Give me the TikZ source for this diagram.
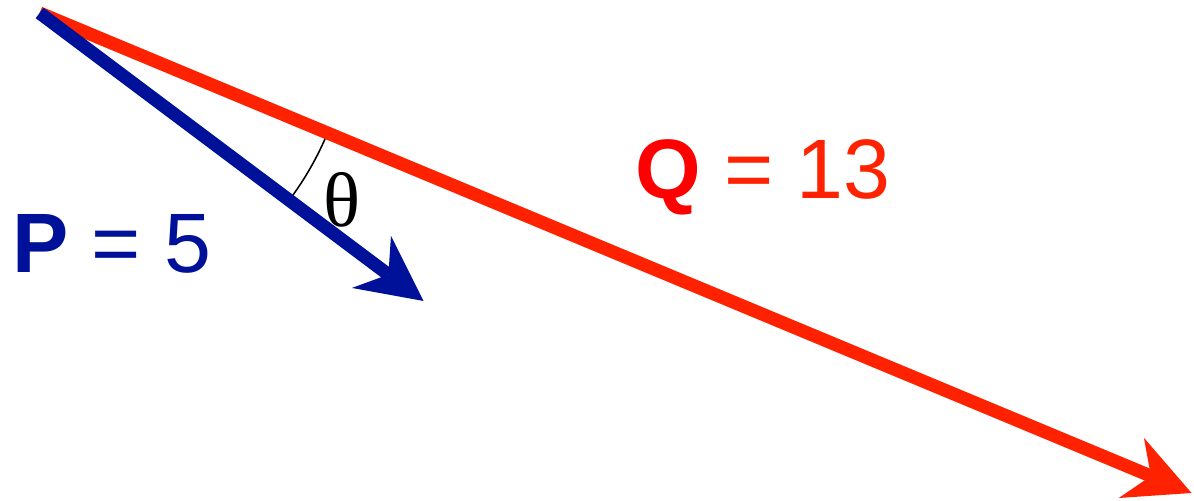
\documentclass[tikz,border=0pt]{standalone}
\usepackage{fontspec}
\setmainfont{Liberation Sans}
\newfontfamily\greekserif{Liberation Serif}
\usetikzlibrary{arrows.meta,calc}
\definecolor{royal}{RGB}{0,17,153}
\definecolor{scarlet}{RGB}{255,34,0}
\definecolor{pure}{RGB}{255,0,0}
\tikzset{
  >={Stealth[length=1.63cm,width=1.63cm,inset=0.53cm,line width=0pt]},
  vec/.style={->,line width=9.3pt,draw=#1},
  vec/.default=royal,
  mag/.style={font=\fontsize{60}{72}\selectfont,text=#1,inner sep=0pt,anchor=base west},
  mag/.default=royal,
  angmark/.style={draw=black,line width=1.1pt},
}

\begin{document}
\begin{tikzpicture}
  \useasboundingbox (0,0) rectangle (29.85,-12.5);
  \coordinate (O) at (0.99,-0.325);
  \coordinate (P) at ($(O)+(-36.87:12)$);
  \coordinate (Q) at ($(O)+(-22.62:31.2)$);
  % angle between the vectors
  \draw[angmark] ($(O)+(-36.87:7.8)$) arc[start angle=-36.87,end angle=-22.62,radius=7.8];
  \draw[vec=scarlet] (O) -- (Q);
  \draw[vec] (O) -- (P);
  \node[mag] (plabel) at (0.3,-6.82) {\textbf{P} = 5};
  \node[mag=scarlet] (qlabel) at (15.875,-4.95) {\textcolor{pure}{\textbf{Q}} = 13};
  \node[font=\greekserif\fontsize{55}{66}\selectfont,inner sep=0pt] (theta) at (8.55,-5.0) {θ};
\end{tikzpicture}
\end{document}
